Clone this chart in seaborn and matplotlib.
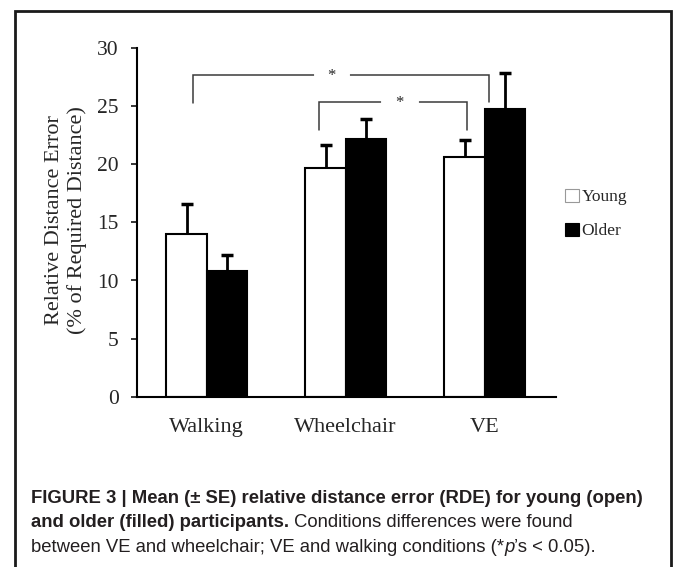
import numpy as np
import pandas as pd
import seaborn as sns
import matplotlib.pyplot as plt
from matplotlib.patches import Patch, Rectangle

conditions = ["Walking", "Wheelchair", "VE"]
groups = ["Young", "Older"]
young_mean = [14.0, 19.7, 20.6]
older_mean = [10.85, 22.2, 24.8]
young_se = [2.55, 1.98, 1.47]
older_se = [1.35, 1.7, 3.08]
yticks = [0, 5, 10, 15, 20, 25, 30]

# significance brackets: (x left, x right, leg bottom left, leg bottom right, top)
brackets = [(-0.10, 2.03, 25.3, 25.4, 27.68), (0.81, 1.87, 22.95, 22.95, 25.36)]

df = pd.DataFrame({
    "condition": conditions * 2,
    "group": ["Young"] * 3 + ["Older"] * 3,
    "rde": young_mean + older_mean,
})
se = {"Young": young_se, "Older": older_se}

sns.set_style("ticks")
plt.rcParams["font.family"] = ["Liberation Serif", "DejaVu Serif"]

W, H = 673, 567
fig = plt.figure(figsize=(W / 100, H / 100), dpi=100)
fig.patch.set_facecolor("white")
ax = fig.add_axes([136.7 / W, 1 - 396.7 / H, 419.3 / W, 348.6 / H])

sns.barplot(data=df, x="condition", y="rde", hue="group", order=conditions, hue_order=groups,
            palette={"Young": "white", "Older": "black"}, edgecolor="black", linewidth=1.5,
            width=0.58, gap=0, errorbar=None, legend=False, ax=ax)

for cont, g in zip(ax.containers, groups):
    xs = [b.get_x() + b.get_width() / 2 for b in cont]
    ys = [b.get_height() for b in cont]
    eb = ax.errorbar(xs, ys, yerr=[np.zeros(3), se[g]], fmt="none", ecolor="black",
                     elinewidth=2, capsize=4.2, capthick=2.5, clip_on=False, zorder=1.5)
    eb[1][0].set_visible(False)

for xl, xr, bl, br, top in brackets:
    ax.plot([xl, xl, xr, xr], [bl, top, top, br], color="#3a3a3a", lw=1.1,
            clip_on=False, solid_joinstyle="miter")

# gaps for the stars
ax.plot([0.784, 1.019], [27.68, 27.68], color="white", lw=3, clip_on=False)
ax.plot([1.27, 1.51], [25.36, 25.36], color="white", lw=3, clip_on=False)
ax.text(0.894, 27.25, "*", ha="center", va="baseline", fontsize=12)
ax.text(1.386, 24.93, "*", ha="center", va="baseline", fontsize=12)

ax.set_xlim(-0.504, 2.513)
ax.set_ylim(0, 30)
ax.set_yticks(yticks)
ax.set_yticklabels([str(t) for t in yticks], fontsize=15.5)
ax.tick_params(axis="y", length=4, width=1.1, pad=9, color="black")
ax.tick_params(axis="x", length=0, pad=15, labelsize=16)
ax.set_xlabel("")
ax.set_ylabel("Relative Distance Error\n(% of Required Distance)", fontsize=16, linespacing=1.2)
ax.yaxis.set_label_coords(-0.168, 0.507)
ax.yaxis.label.set_va("center")
ax.yaxis.label.set_ha("center")
sns.despine(ax=ax)
for s in ["left", "bottom"]:
    ax.spines[s].set_linewidth(1.5)
    ax.spines[s].set_color("black")

handles = [Patch(facecolor="white", edgecolor="#999999", lw=0.8),
           Patch(facecolor="black", edgecolor="black", lw=0.8)]
fig.legend(handles, groups, loc="center left", bbox_to_anchor=(565 / W, 1 - 214 / H),
           frameon=False, fontsize=12.5, handlelength=0.8, handleheight=0.8,
           handletextpad=0.15, labelspacing=1.0, borderpad=0, borderaxespad=0)

# figure frame
fig.add_artist(Rectangle((15 / W, -0.05), (671 - 15) / W, 1.05 - 11 / H, transform=fig.transFigure,
                         fill=False, edgecolor="#1a1a1a", lw=2, clip_on=False))

# caption with mixed styles
renderer = fig.canvas.get_renderer()
cap_font = ["Liberation Sans", "DejaVu Sans"]
cap_size = 13.3
cap_color = "#231f20"


def space_w(weight):
    a = fig.text(0, 0, "a a", fontsize=cap_size, family=cap_font, weight=weight)
    b = fig.text(0, 0, "aa", fontsize=cap_size, family=cap_font, weight=weight)
    w = a.get_window_extent(renderer).width - b.get_window_extent(renderer).width
    a.remove()
    b.remove()
    return w


fig.text(31 / W, 1 - 503 / H, "FIGURE 3 | Mean (\u00b1 SE) relative distance error (RDE) for young (open)",
         fontsize=cap_size, family=cap_font, weight="bold", va="baseline", color=cap_color)

t1 = fig.text(31 / W, 1 - 527 / H, "and older (filled) participants.", fontsize=cap_size,
              family=cap_font, weight="bold", va="baseline", color=cap_color)
x2 = 31 + t1.get_window_extent(renderer).width + space_w("normal")
fig.text(x2 / W, 1 - 527 / H, "Conditions differences were found", fontsize=cap_size,
         family=cap_font, va="baseline", color=cap_color)

t3 = fig.text(31 / W, 1 - 552 / H, "between VE and wheelchair; VE and walking conditions (*",
              fontsize=cap_size, family=cap_font, va="baseline", color=cap_color)
x3 = 31 + t3.get_window_extent(renderer).width
t4 = fig.text(x3 / W, 1 - 552 / H, "p", fontsize=cap_size, family=cap_font, style="italic",
              va="baseline", color=cap_color)
x4 = x3 + t4.get_window_extent(renderer).width
fig.text(x4 / W, 1 - 552 / H, "\u2019s < 0.05).", fontsize=cap_size, family=cap_font,
         va="baseline", color=cap_color)

fig.savefig("out.png", dpi=100)
